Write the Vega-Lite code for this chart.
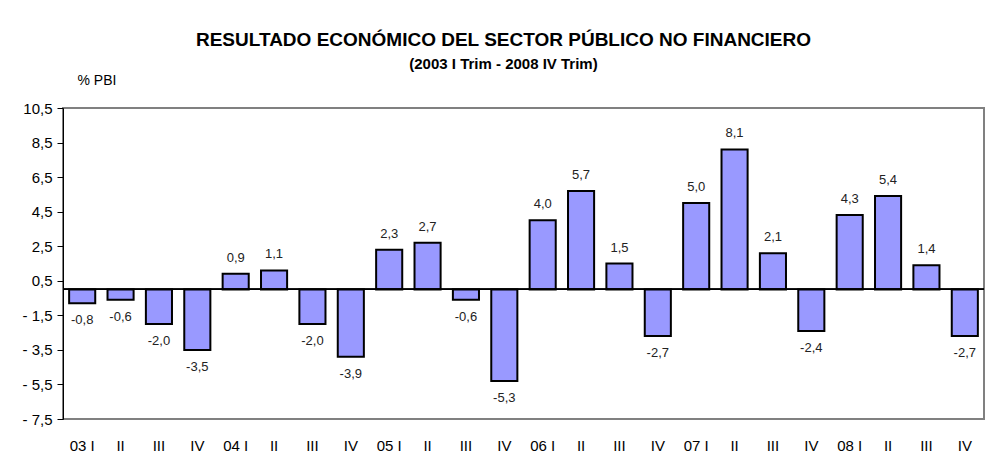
{
  "$schema": "https://vega.github.io/schema/vega-lite/v6.json",
  "width": 921,
  "height": 311,
  "autosize": "none",
  "padding": {"left": 63, "top": 108, "right": 2, "bottom": 38},
  "background": "white",
  "config": {
    "font": "Liberation Sans",
    "locale": {"number": {"decimal": ",", "thousands": ".", "grouping": [3], "currency": ["$", ""], "minus": "-"}},
    "view": {"stroke": "#808080", "strokeWidth": 2}
  },
  "title": {
    "text": "RESULTADO ECONÓMICO DEL SECTOR PÚBLICO NO FINANCIERO",
    "subtitle": "(2003 I Trim -  2008 IV Trim)",
    "anchor": "middle",
    "frame": "group",
    "dx": -20,
    "font": "Liberation Sans",
    "fontSize": 19,
    "fontWeight": "bold",
    "color": "black",
    "subtitleFont": "Liberation Sans",
    "subtitleFontSize": 15,
    "subtitleFontWeight": "bold",
    "subtitleColor": "black",
    "subtitlePadding": 7,
    "offset": 1
  },
  "data": {
    "values": [
      {"periodo": "03 I", "v": -0.8}, {"periodo": "03 II", "v": -0.6}, {"periodo": "03 III", "v": -2.0}, {"periodo": "03 IV", "v": -3.5},
      {"periodo": "04 I", "v": 0.9}, {"periodo": "04 II", "v": 1.1}, {"periodo": "04 III", "v": -2.0}, {"periodo": "04 IV", "v": -3.9},
      {"periodo": "05 I", "v": 2.3}, {"periodo": "05 II", "v": 2.7}, {"periodo": "05 III", "v": -0.6}, {"periodo": "05 IV", "v": -5.3},
      {"periodo": "06 I", "v": 4.0}, {"periodo": "06 II", "v": 5.7}, {"periodo": "06 III", "v": 1.5}, {"periodo": "06 IV", "v": -2.7},
      {"periodo": "07 I", "v": 5.0}, {"periodo": "07 II", "v": 8.1}, {"periodo": "07 III", "v": 2.1}, {"periodo": "07 IV", "v": -2.4},
      {"periodo": "08 I", "v": 4.3}, {"periodo": "08 II", "v": 5.4}, {"periodo": "08 III", "v": 1.4}, {"periodo": "08 IV", "v": -2.7}
    ]
  },
  "encoding": {
    "x": {
      "field": "periodo",
      "type": "nominal",
      "sort": null,
      "scale": {"paddingInner": 0.32, "paddingOuter": 0.16},
      "axis": {
        "title": null,
        "labelAngle": 0,
        "labelExpr": "slice(datum.label, 3) == 'I' ? datum.label : slice(datum.label, 3)",
        "labelFontSize": 15,
        "labelColor": "black",
        "labelPadding": 19,
        "ticks": false,
        "domain": false,
        "grid": false
      }
    },
    "y": {
      "field": "v",
      "type": "quantitative",
      "scale": {"domain": [-7.5, 10.5], "nice": false, "zero": false},
      "axis": {
        "values": [-7.5, -5.5, -3.5, -1.5, 0.5, 2.5, 4.5, 6.5, 8.5, 10.5],
        "labelExpr": "datum.value < 0 ? '- ' + format(-datum.value, '.1f') : format(datum.value, '.1f')",
        "labelFontSize": 15,
        "labelColor": "black",
        "labelPadding": 5,
        "tickSize": 6,
        "tickColor": "black",
        "domainColor": "black",
        "domainWidth": 1,
        "grid": false,
        "title": "% PBI",
        "titleAngle": 0,
        "titleAlign": "left",
        "titleBaseline": "middle",
        "titleX": 14,
        "titleY": -28,
        "titleFontSize": 14,
        "titleFontWeight": "normal",
        "titleColor": "black"
      }
    }
  },
  "layer": [
    {
      "mark": {"type": "bar", "fill": "#9999FF", "stroke": "black", "strokeWidth": 2}
    },
    {
      "mark": {"type": "rule", "color": "black", "strokeWidth": 1},
      "encoding": {"y": {"datum": 0}, "x": null}
    },
    {
      "transform": [{"filter": "datum.v >= 0"}],
      "mark": {"type": "text", "baseline": "middle", "dy": -16, "fontSize": 13, "color": "#222222"},
      "encoding": {"text": {"field": "v", "type": "quantitative", "format": ".1f"}}
    },
    {
      "transform": [{"filter": "datum.v < 0"}],
      "mark": {"type": "text", "baseline": "middle", "dy": 17, "fontSize": 13, "color": "#222222"},
      "encoding": {"text": {"field": "v", "type": "quantitative", "format": ".1f"}}
    }
  ]
}
